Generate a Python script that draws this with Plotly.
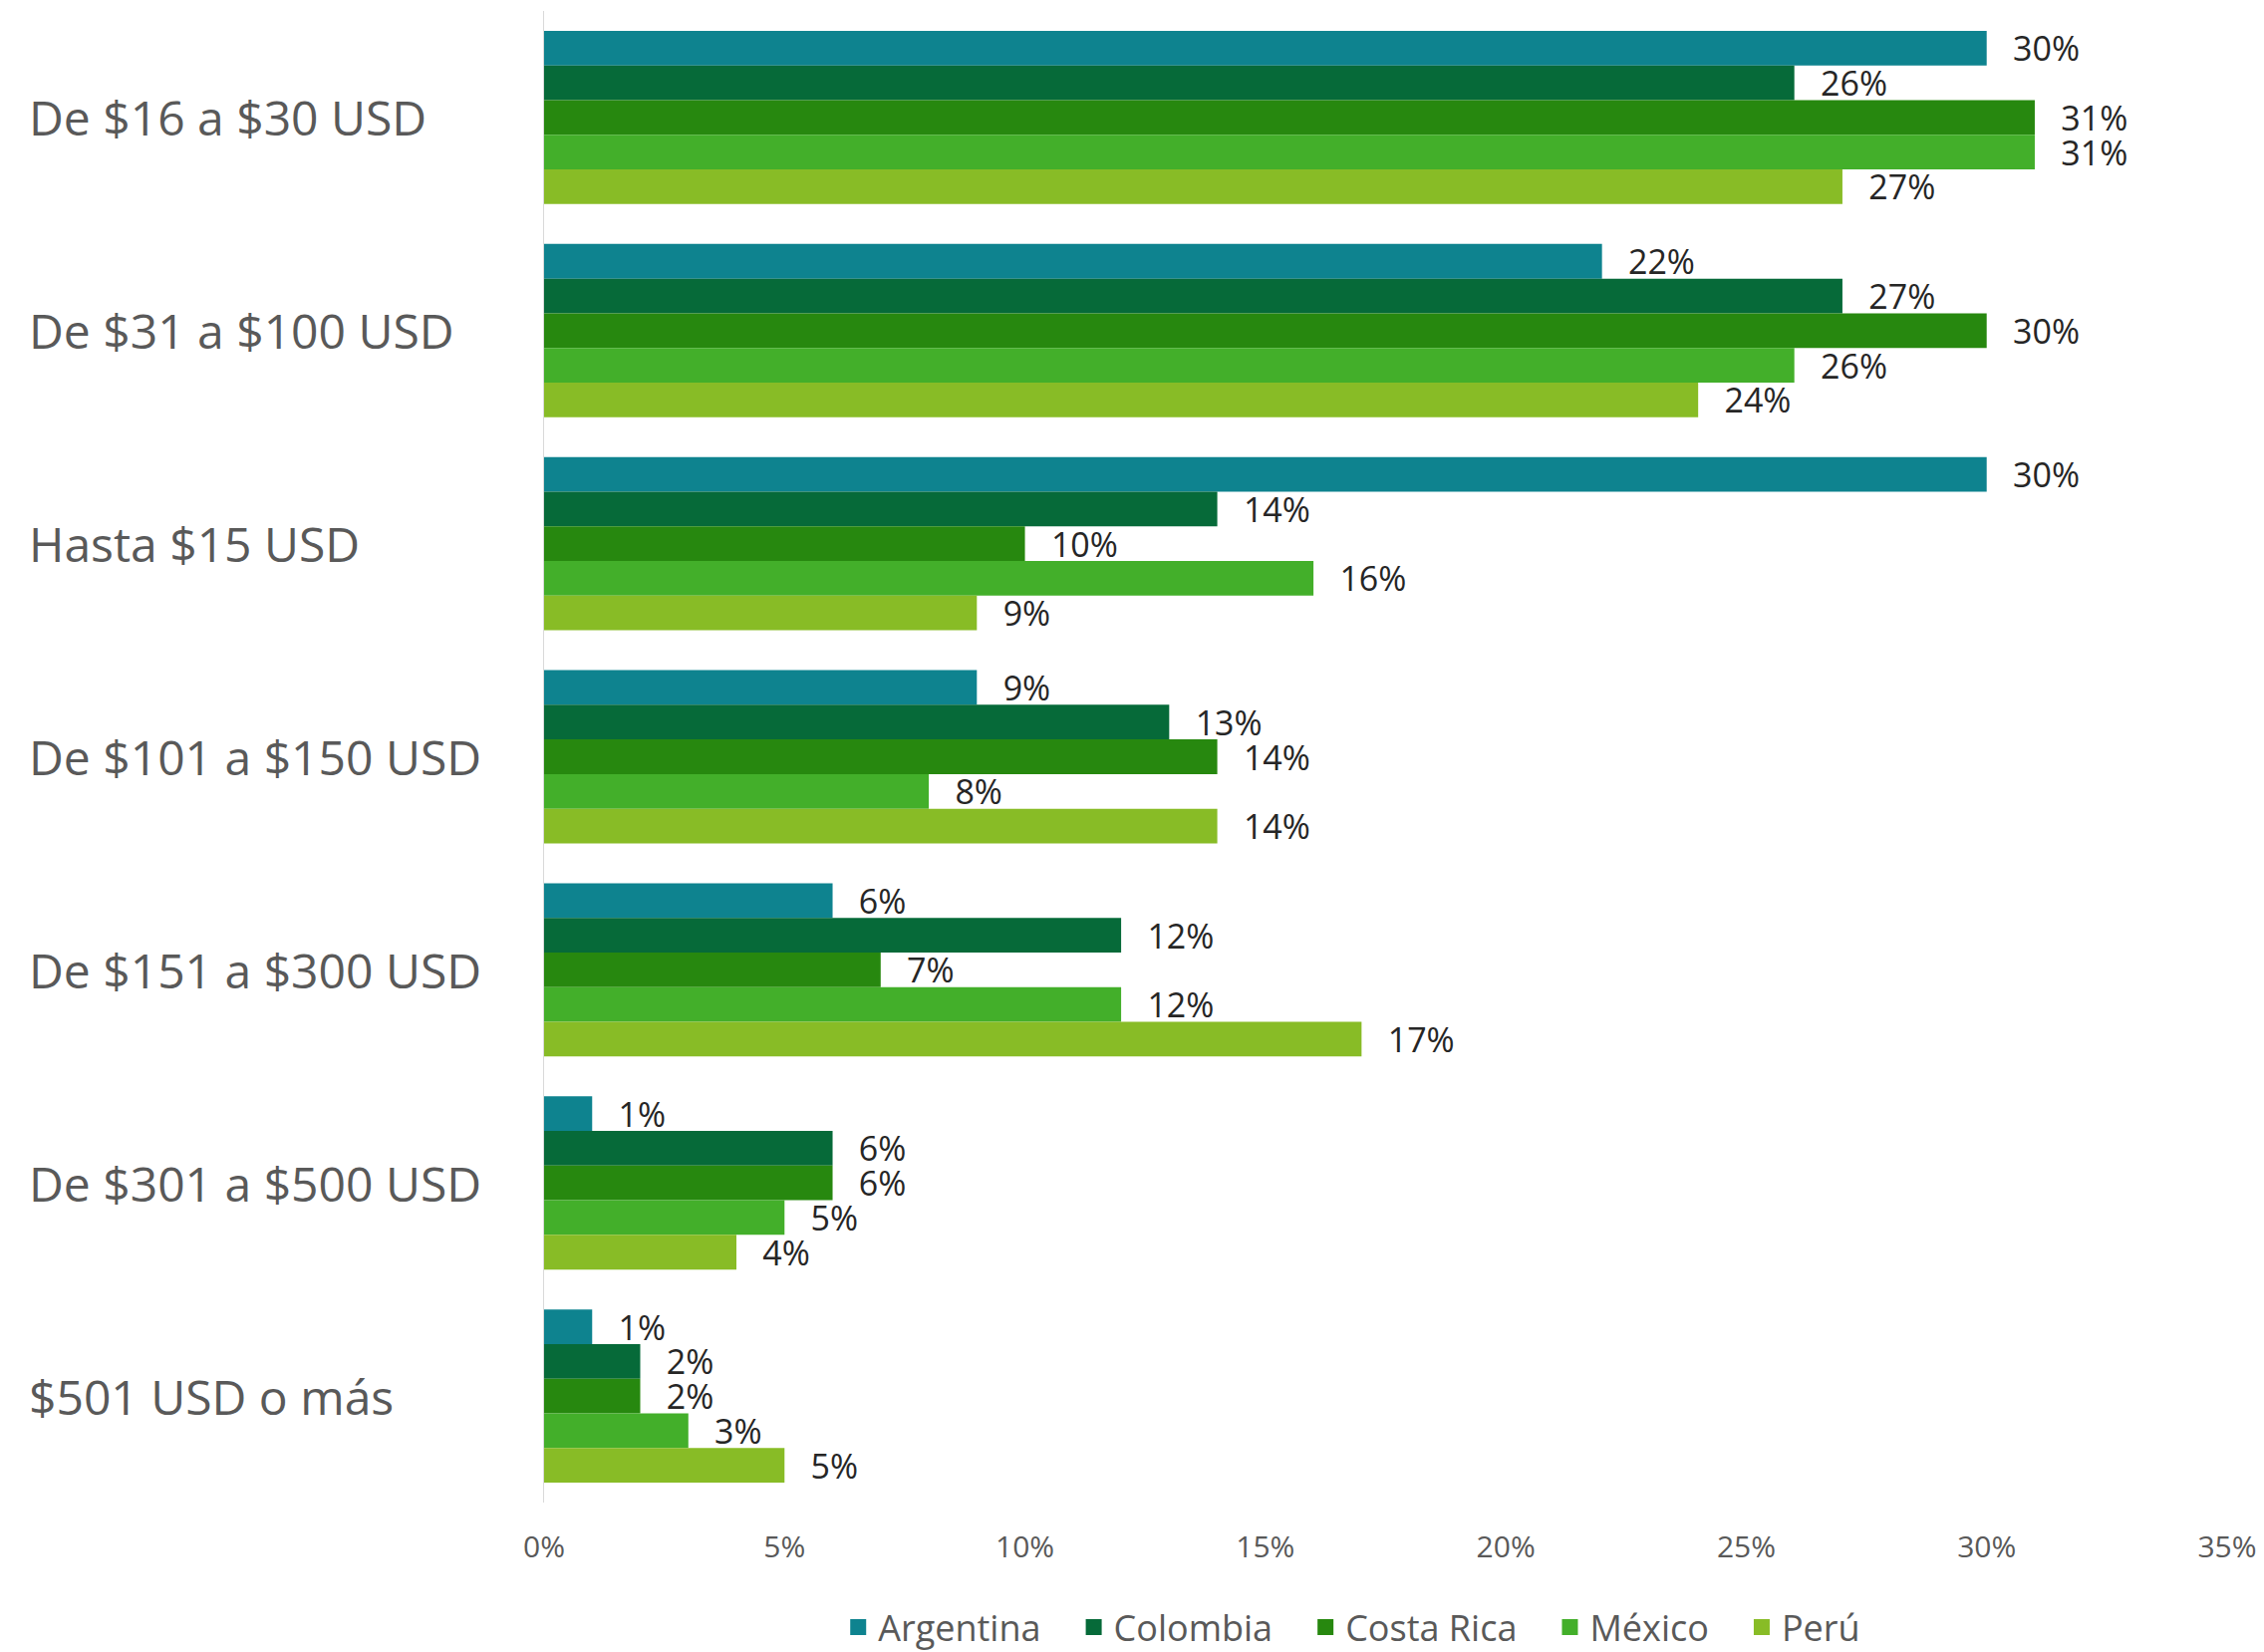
import plotly.graph_objects as go

categories = ["De $16 a $30 USD", "De $31 a $100 USD", "Hasta $15 USD",
              "De $101 a $150 USD", "De $151 a $300 USD", "De $301 a $500 USD",
              "$501 USD o más"]
countries = ["Argentina", "Colombia", "Costa Rica", "México", "Perú"]
argentina = [30, 22, 30, 9, 6, 1, 1]
colombia = [26, 27, 14, 13, 12, 6, 2]
costa_rica = [31, 30, 10, 14, 7, 6, 2]
mexico = [31, 26, 16, 8, 12, 5, 3]
peru = [27, 24, 9, 14, 17, 4, 5]
series = [argentina, colombia, costa_rica, mexico, peru]
colors = ["#0E838F", "#066A39", "#27880F", "#43AF2A", "#88BC26"]
tick_vals = [0, 5, 10, 15, 20, 25, 30, 35]
tick_text = ["0%", "5%", "10%", "15%", "20%", "25%", "30%", "35%"]

FONT = "Open Sans"
fig = go.Figure()
for name, vals, col in zip(countries, series, colors):
    fig.add_trace(go.Bar(
        y=categories, x=vals, name=name, orientation="h",
        marker=dict(color=col, line=dict(width=0)),
        text=["\u00a0\u00a0\u2009" + f"{v}%" for v in vals],
        textposition="outside", constraintext="none", cliponaxis=False,
        textfont=dict(family=FONT, size=34, color="#262626"),
        hoverinfo="skip", showlegend=False,
    ))
# legend entries with square swatches
n = len(countries)
for i, (name, col) in enumerate(zip(countries, colors)):
    label = name + ("\u00a0\u00a0\u00a0" if i < n - 1 else "")
    fig.add_trace(go.Scatter(
        x=[None], y=[None], mode="markers", name=label,
        marker=dict(symbol="square", size=24, color=col),
        hoverinfo="skip", showlegend=True,
    ))

for c in categories:
    fig.add_annotation(x=-0.3075, xref="paper", y=c, yref="y", text=c,
                       showarrow=False, xanchor="left", yanchor="middle",
                       font=dict(family=FONT, size=48, color="#595959"))

fig.update_layout(
    width=2272, height=1658,
    margin=dict(l=546, r=37, t=11, b=150, autoexpand=False),
    paper_bgcolor="white", plot_bgcolor="white",
    barmode="group", bargap=0.187, bargroupgap=0,
    showlegend=True,
    legend=dict(orientation="h", x=0.48, xanchor="center",
                yref="container", y=0.015, yanchor="middle",
                itemsizing="trace", itemwidth=30,
                font=dict(family=FONT, size=36, color="#595959"),
                traceorder="normal"),
    xaxis=dict(range=[0, 35], tickvals=tick_vals, ticktext=tick_text,
               showgrid=False, zeroline=False, showline=False,
               ticks="outside", ticklen=18, tickcolor="rgba(0,0,0,0)",
               tickfont=dict(family=FONT, size=30, color="#595959")),
    yaxis=dict(categoryorder="array", categoryarray=categories,
               autorange="reversed", showticklabels=False, showgrid=False,
               zeroline=False, showline=True, linecolor="#D9D9D9", linewidth=1,
               ticks=""),
)
fig.write_html("out.html", config={"displayModeBar": False},
               post_script="document.body.style.margin='0';document.body.style.overflow='hidden';")
